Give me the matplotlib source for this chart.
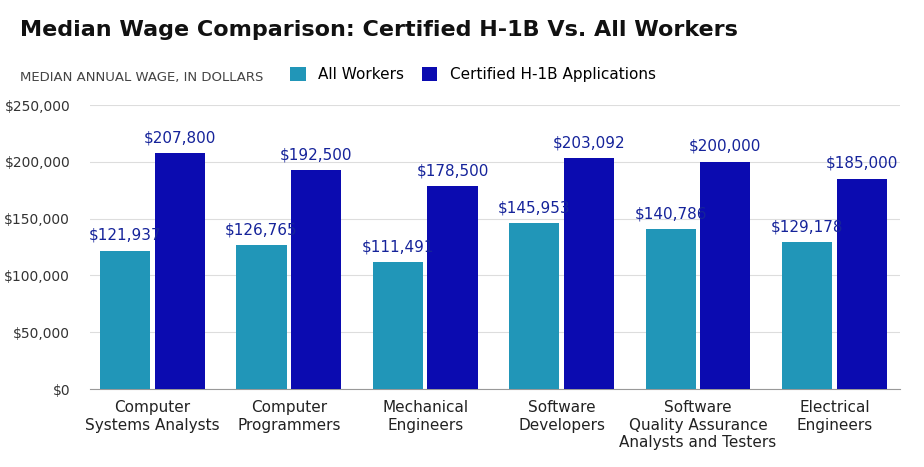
import matplotlib
matplotlib.use("Agg")
import matplotlib.pyplot as plt
import numpy as np

categories = ["Computer\nSystems Analysts", "Computer\nProgrammers", "Mechanical\nEngineers",
              "Software\nDevelopers", "Software\nQuality Assurance\nAnalysts and Testers", "Electrical\nEngineers"]
all_workers = [121937, 126765, 111491, 145953, 140786, 129178]
h1b = [207800, 192500, 178500, 203092, 200000, 185000]
yticks = [0, 50000, 100000, 150000, 200000, 250000]

fig = plt.figure(figsize=(9.24, 4.67), dpi=100)
ax = fig.add_axes([0.097, 0.167, 0.877, 0.608])
x = np.arange(len(categories))
w = 0.367
off = 0.2
teal = "#2196b8"
blue = "#0b0bb0"
lab = "#15239a"
ax.bar(x - off, all_workers, w, color=teal, label="All Workers", zorder=3)
ax.bar(x + off, h1b, w, color=blue, label="Certified H-1B Applications", zorder=3)
for xi, v in zip(x - off, all_workers):
    ax.text(xi, v + 7000, f"${v:,}", ha="center", va="bottom", color=lab, fontsize=11)
for xi, v in zip(x + off, h1b):
    ax.text(xi, v + 7000, f"${v:,}", ha="center", va="bottom", color=lab, fontsize=11)
ax.set_xlim(-0.46, 5.48)
ax.set_ylim(0, 250000)
ax.set_yticks(yticks)
ax.set_yticklabels([f"${t:,}" for t in yticks], fontsize=10, color="#333333")
ax.set_xticks(x)
ax.set_xticklabels(categories, fontsize=11, color="#222222")
ax.tick_params(length=0, pad=8)
ax.tick_params(axis="y", pad=14)
ax.grid(axis="y", color="#dddddd", linewidth=0.8, zorder=0)
for s in ["top", "right", "left"]:
    ax.spines[s].set_visible(False)
ax.spines["bottom"].set_color("#999999")
fig.text(0.022, 0.935, "Median Wage Comparison: Certified H-1B Vs. All Workers",
         fontsize=16, fontweight="bold", color="#111111", va="center")
fig.text(0.022, 0.833, "MEDIAN ANNUAL WAGE, IN DOLLARS", fontsize=9.5, color="#444444", va="center")
ax.legend(loc="lower left", bbox_to_anchor=(0.24, 1.06), ncol=2, frameon=False,
          fontsize=11, handlelength=1.0, handleheight=1.0, columnspacing=1.2, borderaxespad=0)
fig.savefig("out.png", dpi=100)
